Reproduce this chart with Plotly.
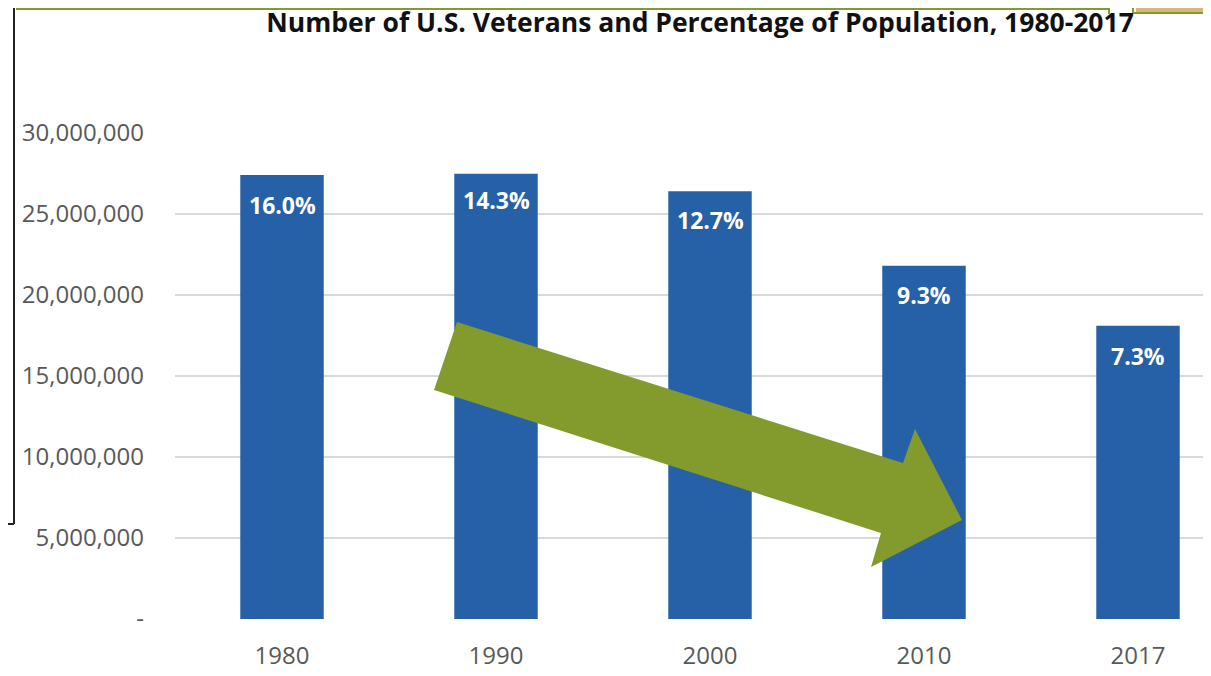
import plotly.graph_objects as go

# ---- data ----
years = ["1980", "1990", "2000", "2010", "2017"]
veterans = [27400000, 27480000, 26400000, 21800000, 18100000]
pct_labels = ["16.0%", "14.3%", "12.7%", "9.3%", "7.3%"]
label_shift = [-30, -26, -29, -29, -30]
y_tickvals = [0, 5000000, 10000000, 15000000, 20000000, 25000000, 30000000]
y_ticktext = ["-", "5,000,000", "10,000,000", "15,000,000", "20,000,000", "25,000,000", "30,000,000"]
title_text = "Number of U.S. Veterans and Percentage of Population, 1980-2017"

W, H = 1211, 676
OFF = 8  # page body margin offset
CAT_W = 214  # pixels per category
ML = 175 - OFF
MT = 133 - OFF
MB = H - (619 - OFF)
MR = 0
PW, PH = W - ML - MR, H - MT - MB
x_range = [-0.5, -0.5 + PW / CAT_W]

def px(x, y):
    # page pixel -> paper coords
    return (x - OFF - ML) / PW, (H - MB - (y - OFF)) / PH

FONT = "Open Sans"
BAR = "#2660A6"
GREEN = "#839A2C"

fig = go.Figure()
fig.add_trace(go.Bar(
    x=years, y=veterans, width=0.39,
    marker=dict(color=BAR, line=dict(width=0)),
    hoverinfo="skip",
))

for i, (v, t, s) in enumerate(zip(veterans, pct_labels, label_shift)):
    fig.add_annotation(x=i, y=v, text=t, showarrow=False, yshift=s,
                       xref="x", yref="y",
                       font=dict(family=FONT, size=23, color="white", weight="bold"))

# trend arrow (decorative)
pts = [(457, 322), (903, 463), (915, 429), (962, 520), (871, 567), (881, 533), (434, 390)]
path = "M " + " L ".join(f"{px(a,b)[0]:.4f},{px(a,b)[1]:.4f}" for a, b in pts) + " Z"
fig.add_shape(type="path", path=path, xref="paper", yref="paper",
              fillcolor=GREEN, line=dict(width=0), layer="above")

# screenshot frame artifacts
def line(x0, y0, x1, y1, color, w):
    a = px(x0, y0); b = px(x1, y1)
    fig.add_shape(type="line", x0=a[0], y0=a[1], x1=b[0], y1=b[1],
                  xref="paper", yref="paper", line=dict(color=color, width=w))

line(14, 0, 14, 524, "#222222", 2)
line(8, 524, 14, 524, "#222222", 2)
line(16, 9, 1110, 9, GREEN, 2)
line(1109, 8, 1109, 14, GREEN, 2)
a = px(1136, 8); b = px(1219, 12)
fig.add_shape(type="rect", x0=a[0], y0=a[1], x1=b[0], y1=b[1], xref="paper", yref="paper",
              fillcolor="#D8B47E", line=dict(width=0))
line(1133, 13, 1219, 13, GREEN, 2)
line(1133, 8, 1133, 13, GREEN, 2)

fig.update_layout(
    width=W, height=H,
    margin=dict(l=ML, r=MR, t=MT, b=MB),
    paper_bgcolor="white", plot_bgcolor="white",
    showlegend=False,
    title=dict(text=title_text, x=(700 - OFF) / W, xanchor="center", xref="container",
               y=1 - (23 - OFF) / H, yanchor="middle", yref="container",
               font=dict(family=FONT, size=26.5, color="#111111", weight="bold")),
    xaxis=dict(type="category", range=x_range, showgrid=False, zeroline=False, showline=False,
               ticks="", tickfont=dict(family=FONT, size=24, color="#595959"),
               ticklabelstandoff=20, fixedrange=True),
    yaxis=dict(range=[0, 30000000], tickvals=y_tickvals, ticktext=y_ticktext,
               showgrid=True, gridcolor="#D9D9D9", gridwidth=1.5, zeroline=False,
               showline=False, ticks="", tickfont=dict(family=FONT, size=24, color="#595959"),
               ticklabelstandoff=30, fixedrange=True),
)

fig.write_html("out.html")
